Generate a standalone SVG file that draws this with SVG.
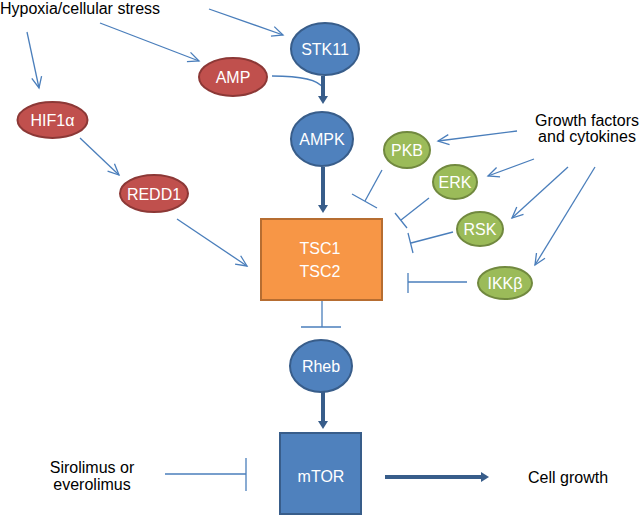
<svg xmlns="http://www.w3.org/2000/svg" width="640" height="517" viewBox="0 0 640 517">
<style>
text{font-family:"Liberation Sans",Arial,sans-serif;font-size:16px}
.lbl{fill:#ffffff;text-anchor:middle}
.blk{fill:#000000}
.blue{fill:#4f81bd;stroke:#385d8a;stroke-width:2}
.red{fill:#c0504d;stroke:#8c3836;stroke-width:2}
.green{fill:#9bbb59;stroke:#71893f;stroke-width:2}
.orange{fill:#f79646;stroke:#b66d31;stroke-width:2}
.thin{stroke:#4a7ebb;stroke-width:1.3;fill:none}
.act{marker-end:url(#open)}
.thick{stroke:#385d8a;stroke-width:4;fill:none;marker-end:url(#solid)}
</style>
<defs>
<marker id="open" markerUnits="userSpaceOnUse" markerWidth="14" markerHeight="12" refX="11" refY="5" orient="auto" overflow="visible">
<path d="M0,0 L11,5 L0,10" fill="none" stroke="#4a7ebb" stroke-width="1.3"/>
</marker>
<marker id="solid" markerUnits="userSpaceOnUse" markerWidth="12" markerHeight="12" refX="0" refY="5" orient="auto" overflow="visible">
<path d="M0,0 L8,5 L0,10 z" fill="#385d8a"/>
</marker>
</defs>
<rect width="640" height="517" fill="#ffffff"/>
<g id="connectors">
<line class="thin act" x1="209" y1="9" x2="283" y2="35"/>
<line class="thin act" x1="100" y1="23" x2="199" y2="61"/>
<line class="thin act" x1="27" y1="32" x2="39" y2="88"/>
<line class="thin act" x1="80" y1="138" x2="119" y2="175"/>
<line class="thin act" x1="177" y1="219" x2="247" y2="266"/>
<path class="thin" d="M272,76 C300,76 318,79 323,88"/>
<line class="thick" x1="323" y1="76" x2="323" y2="96"/>
<line class="thick" x1="323" y1="167" x2="323" y2="205"/>
<line class="thick" x1="323" y1="391" x2="323" y2="421"/>
<line class="thick" x1="385" y1="477" x2="481" y2="477"/>
<line class="thin" x1="322" y1="300" x2="322" y2="327"/>
<line class="thin" x1="301" y1="327" x2="341" y2="327"/>
<line class="thin" x1="165" y1="474" x2="246" y2="474"/>
<line class="thin" x1="246" y1="458" x2="246" y2="491"/>
<line class="thin act" x1="517" y1="131" x2="438" y2="141"/>
<line class="thin act" x1="534" y1="159" x2="488" y2="176"/>
<line class="thin act" x1="568" y1="167" x2="512" y2="218"/>
<line class="thin act" x1="595" y1="167" x2="535" y2="265"/>
<line class="thin" x1="382" y1="170" x2="365" y2="201"/>
<line class="thin" x1="352" y1="194" x2="377" y2="208"/>
<line class="thin" x1="429" y1="198" x2="401" y2="220"/>
<line class="thin" x1="395" y1="213" x2="407" y2="228"/>
<line class="thin" x1="453" y1="232" x2="411" y2="243"/>
<line class="thin" x1="408" y1="233" x2="413" y2="253"/>
<line class="thin" x1="467" y1="282" x2="408" y2="282"/>
<line class="thin" x1="408" y1="273" x2="408" y2="293"/>
</g>
<g id="hypoxia"><text class="blk" x="0" y="14">Hypoxia/cellular stress</text></g>
<g id="growth"><text class="blk" x="587" y="126" text-anchor="middle">Growth factors</text><text class="blk" x="587" y="142" text-anchor="middle">and cytokines</text></g>
<g id="sirolimus"><text class="blk" x="92" y="473" text-anchor="middle">Sirolimus or</text><text class="blk" x="92" y="490" text-anchor="middle">everolimus</text></g>
<g id="cellgrowth"><text class="blk" x="528" y="483">Cell growth</text></g>
<g id="stk11"><ellipse class="blue" cx="325" cy="49" rx="34" ry="26"/><text class="lbl" x="325" y="55">STK11</text></g>
<g id="amp"><ellipse class="red" cx="233" cy="77" rx="34" ry="19"/><text class="lbl" x="233" y="83">AMP</text></g>
<g id="hif1a"><ellipse class="red" cx="52.5" cy="120" rx="35" ry="18"/><text class="lbl" x="52.5" y="126">HIF1α</text></g>
<g id="redd1"><ellipse class="red" cx="154" cy="193.5" rx="34" ry="18.5"/><text class="lbl" x="154" y="199.5">REDD1</text></g>
<g id="ampk"><ellipse class="blue" cx="322" cy="139" rx="31" ry="27"/><text class="lbl" x="322" y="145">AMPK</text></g>
<g id="tsc"><rect class="orange" x="261" y="219" width="121" height="81"/><text class="lbl" x="320" y="254">TSC1</text><text class="lbl" x="320" y="277">TSC2</text></g>
<g id="pkb"><ellipse class="green" cx="407" cy="150" rx="23" ry="18"/><text class="lbl" x="407" y="156">PKB</text></g>
<g id="erk"><ellipse class="green" cx="455" cy="182" rx="22" ry="17"/><text class="lbl" x="455" y="188">ERK</text></g>
<g id="rsk"><ellipse class="green" cx="480" cy="229" rx="23" ry="17"/><text class="lbl" x="480" y="235">RSK</text></g>
<g id="ikkb"><ellipse class="green" cx="505" cy="283" rx="27" ry="16"/><text class="lbl" x="505" y="289">IKKβ</text></g>
<g id="rheb"><ellipse class="blue" cx="321" cy="366" rx="31" ry="26"/><text class="lbl" x="321" y="372">Rheb</text></g>
<g id="mtor"><rect class="blue" x="280" y="433" width="81" height="81"/><text class="lbl" x="321" y="482">mTOR</text></g>
</svg>
